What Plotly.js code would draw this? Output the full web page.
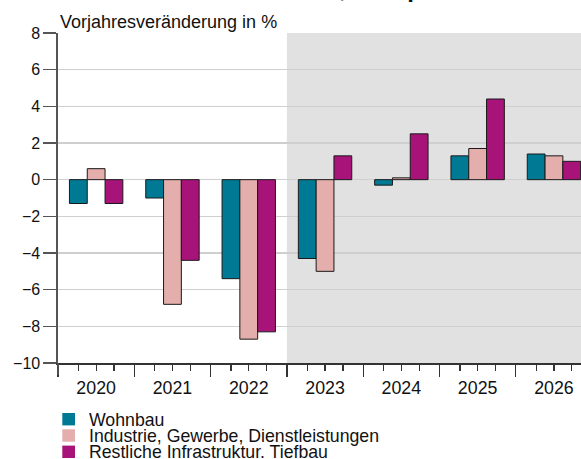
<!DOCTYPE html>
<html>
<head>
<meta charset="utf-8">
<script src="https://cdn.plot.ly/plotly-3.0.1.min.js"></script>
<style>
  html, body { margin: 0; padding: 0; background: #ffffff; }
  #chart { width: 581px; height: 459px; }
</style>
</head>
<body>
<div id="chart"></div>
<script>
// ---- data ----
const years = ['2020', '2021', '2022', '2023', '2024', '2025', '2026'];
const seriesNames = ['Wohnbau', 'Industrie, Gewerbe, Dienstleistungen', 'Restliche Infrastruktur. Tiefbau'];
const wohnbau   = [-1.3, -1.0, -5.4, -4.3, -0.3, 1.3, 1.4];
const industrie = [0.6, -6.8, -8.7, -5.0, 0.1, 1.7, 1.3];
const restliche = [-1.3, -4.4, -8.3, 1.3, 2.5, 4.4, 1.0];
const yTickVals = [-10, -8, -6, -4, -2, 0, 2, 4, 6, 8];
const yTickText = ['\u221210', '\u22128', '\u22126', '\u22124', '\u22122', '0', '2', '4', '6', '8'];
const forecastStart = '2023';
const titleText = 'Bauinvestitionen, Europa';
const yTitleText = 'Vorjahresveränderung in %';

// ---- styles ----
const colors = ['#007a94', '#e3aeab', '#a71378'];
const font = 'Liberation Sans, Arial, Helvetica, sans-serif';
const W = 581, H = 459;
const M = { l: 58, r: 0, t: 33, b: 96 };
const plotW = W - M.l - M.r, plotH = H - M.t - M.b;
const catPx = 76.3;                    // pixel width of one category
const xMin = -0.5;
const xMax = xMin + plotW / catPx;    // right edge cuts through the last category
const bargap = 0.3;
const nS = seriesNames.length;

const xIdx = years.map((_, i) => i);
const seriesVals = [wohnbau, industrie, restliche];

const traces = seriesVals.map((vals, s) => ({
  type: 'bar',
  name: seriesNames[s],
  x: xIdx,
  y: vals,
  marker: { color: colors[s], line: { color: '#1a1a1a', width: 1 } },
  showlegend: false,
  hoverinfo: 'y'
}));

// tick positions: category boundaries (major) and bar centres (minor)
const boundaries = [];
for (let i = 0; i <= years.length; i++) boundaries.push(i - 0.5);
const bw = (1 - bargap) / nS;
const barCenters = [];
xIdx.forEach(i => { for (let s = 0; s < nS; s++) barCenters.push(i - (1 - bargap) / 2 + bw * (s + 0.5)); });

const px2paperX = px => (px - M.l) / plotW;
const px2paperY = py => (H - M.b - py) / plotH;

const shapes = [
  { type: 'rect', xref: 'x', yref: 'y', x0: years.indexOf(forecastStart) - 0.5, x1: xMax,
    y0: yTickVals[0], y1: yTickVals[yTickVals.length - 1],
    fillcolor: '#e1e1e1', line: { width: 0 }, layer: 'below' },
  // y axis line extends below the x axis
  { type: 'line', xref: 'paper', yref: 'paper', x0: 0, x1: 0, y0: 0, y1: px2paperY(H - M.b + 12),
    line: { color: '#555555', width: 1.6 } }
];

const annotations = [
  { text: '<b>' + titleText + '</b>', xref: 'paper', yref: 'paper', x: px2paperX(290.5), y: 1,
    xanchor: 'center', yanchor: 'bottom', yshift: 29, showarrow: false,
    font: { family: font, size: 24, color: '#111111' } },
  { text: yTitleText, xref: 'paper', yref: 'paper', x: 0, y: 1, xanchor: 'left', yanchor: 'bottom',
    xshift: 0, yshift: -1, showarrow: false, font: { family: font, size: 18, color: '#111111' } }
];

// manual compact legend
const legRowY = [419.2, 435.5, 451.8];
seriesNames.forEach((nm, s) => {
  const cy = legRowY[s];
  shapes.push({ type: 'rect', xref: 'paper', yref: 'paper',
    x0: px2paperX(62.3), x1: px2paperX(75), y0: px2paperY(cy - 6.2), y1: px2paperY(cy + 6.2),
    fillcolor: colors[s], line: { width: 0 } });
  annotations.push({ text: nm, xref: 'paper', yref: 'paper', x: px2paperX(86.5), y: px2paperY(cy + 0.5),
    xanchor: 'left', yanchor: 'middle', showarrow: false,
    font: { family: font, size: 17.7, color: '#111111' } });
});

const layout = {
  width: W, height: H,
  margin: M,
  paper_bgcolor: '#ffffff', plot_bgcolor: '#ffffff',
  font: { family: font, color: '#111111' },
  barmode: 'group', bargap: bargap, bargroupgap: 0,
  xaxis: {
    range: [xMin, xMax], fixedrange: true,
    tickmode: 'array', tickvals: boundaries, showticklabels: false,
    ticks: 'outside', ticklen: 12, tickwidth: 1.3, tickcolor: '#333333',
    minor: { tickmode: 'array', tickvals: barCenters, ticks: 'outside', ticklen: 6,
             tickwidth: 1.3, tickcolor: '#333333', showgrid: false },
    showgrid: false, zeroline: false, showline: true, linecolor: '#333333', linewidth: 1.5
  },
  xaxis2: {
    overlaying: 'x', anchor: 'y', side: 'bottom', range: [xMin, xMax], fixedrange: true,
    tickmode: 'array', tickvals: xIdx, ticktext: years, ticks: '',
    ticklabelstandoff: 12,
    tickfont: { family: font, size: 17.8, color: '#111111' },
    showgrid: false, zeroline: false, showline: false
  },
  yaxis: {
    range: [yTickVals[0], yTickVals[yTickVals.length - 1]], fixedrange: true,
    tickmode: 'array', tickvals: yTickVals, ticktext: yTickText,
    ticks: 'outside', ticklen: 13, tickwidth: 1.5, tickcolor: '#555555',
    tickfont: { family: font, size: 16, color: '#111111' },
    showgrid: true, gridcolor: '#cfcfcf', gridwidth: 1.5,
    zeroline: false, showline: true, linecolor: '#555555', linewidth: 1.6
  },
  shapes: shapes,
  annotations: annotations,
  showlegend: false
};

// dummy trace on xaxis2 so its labels are drawn
traces.push({ type: 'scatter', x: [xIdx[0]], y: [null], xaxis: 'x2', yaxis: 'y',
  showlegend: false, hoverinfo: 'skip', mode: 'markers' });

Plotly.newPlot('chart', traces, layout, { displayModeBar: false, staticPlot: true });
</script>
</body>
</html>
